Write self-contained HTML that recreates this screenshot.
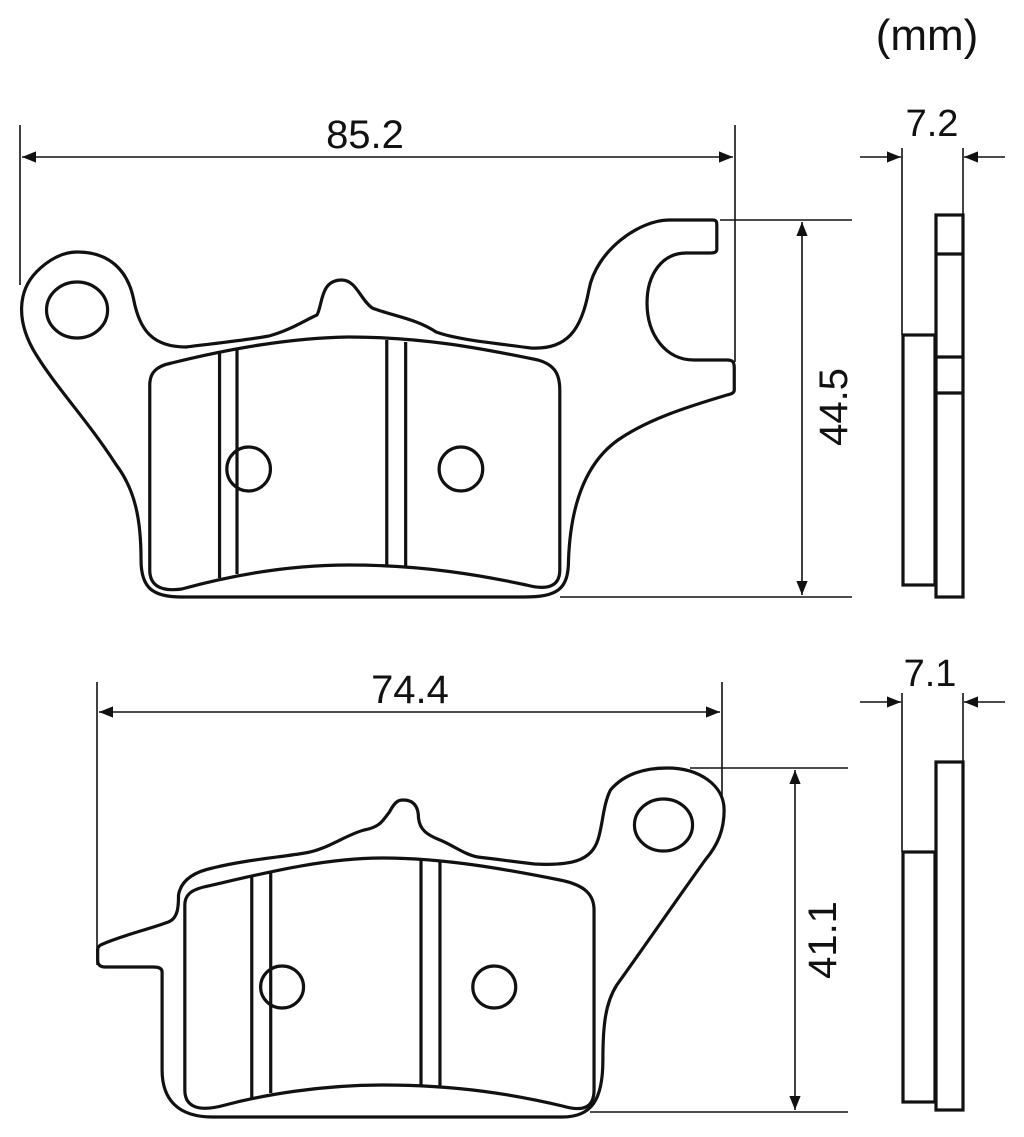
<!DOCTYPE html>
<html><head><style>html,body{margin:0;padding:0;background:#fff}svg{display:block}</style></head>
<body>
<svg width="1024" height="1137" viewBox="0 0 1024 1137" xmlns="http://www.w3.org/2000/svg">
<defs>
<marker id="a" viewBox="0 0 10 10" refX="10" refY="5" markerWidth="14" markerHeight="14" markerUnits="userSpaceOnUse" orient="auto-start-reverse"><path d="M0,1 L10,5 L0,9 z" fill="#111"/></marker>
</defs>
<g font-family="Liberation Sans, sans-serif" fill="#111">
<text x="927" y="50" font-size="44" text-anchor="middle">(mm)</text>
<text x="365" y="148" font-size="40" text-anchor="middle">85.2</text>
<text x="932" y="136" font-size="38" text-anchor="middle">7.2</text>
<text x="410" y="703" font-size="40" text-anchor="middle">74.4</text>
<text x="930" y="686" font-size="38" text-anchor="middle">7.1</text>
<text transform="translate(847,407) rotate(-90)" font-size="40" text-anchor="middle">44.5</text>
<text transform="translate(836,940) rotate(-90)" font-size="40" text-anchor="middle">41.1</text>
</g>
<g stroke="#111" stroke-width="1.6" fill="none">
<line x1="20" y1="125" x2="20" y2="285"/>
<line x1="735" y1="125" x2="735" y2="362"/>
<line x1="22" y1="157" x2="733" y2="157" marker-start="url(#a)" marker-end="url(#a)"/>
<line x1="720" y1="220" x2="852" y2="220"/>
<line x1="560" y1="597" x2="852" y2="597"/>
<line x1="802" y1="222" x2="802" y2="595" marker-start="url(#a)" marker-end="url(#a)"/>
<line x1="902" y1="148" x2="902" y2="335"/>
<line x1="963" y1="148" x2="963" y2="215"/>
<line x1="860" y1="157" x2="901" y2="157" marker-end="url(#a)"/>
<line x1="1005" y1="157" x2="964" y2="157" marker-end="url(#a)"/>

<line x1="97" y1="682" x2="97" y2="965"/>
<line x1="722" y1="682" x2="722" y2="800"/>
<line x1="99" y1="712" x2="720" y2="712" marker-start="url(#a)" marker-end="url(#a)"/>
<line x1="690" y1="768" x2="848" y2="768"/>
<line x1="590" y1="1112" x2="848" y2="1112"/>
<line x1="795" y1="770" x2="795" y2="1110" marker-start="url(#a)" marker-end="url(#a)"/>
<line x1="902" y1="693" x2="902" y2="852"/>
<line x1="963" y1="693" x2="963" y2="762"/>
<line x1="860" y1="702" x2="901" y2="702" marker-end="url(#a)"/>
<line x1="1005" y1="702" x2="964" y2="702" marker-end="url(#a)"/>
</g>
<g stroke="#111" stroke-width="3.2" fill="none" stroke-linejoin="round" transform="scale(1.454,1)">
<path vector-effect="non-scaling-stroke" d="M53,252 C75,252 88,270 92,300 C96,330 105,347 128,347 C150,343 170,340 185,336 C200,330 210,320 218,315 C222,305 220,280 235,280 C245,280 248,300 256,308 C270,316 285,318 300,332 C315,340 340,343 365,348 C390,350 400,330 405,290 C410,250 440,220 460,220 L490,220 C493,220 493,222 493,226 L493,249 C493,252 492,253 488,253 L472,253 C455,253 445,275 445,303 C445,335 458,360 477,360 L500,360 C504,360 505,362 505,368 L505,390 C505,393 503,394 500,395 C470,408 445,420 425,440 C398,468 392,520 391,560 C391,590 383,597 360,597 L125,597 C105,597 97,588 97,560 C97,520 93,490 80,465 C60,420 40,390 25,355 C10,320 13,290 25,272 C33,260 43,252 53,252 Z"/>
<ellipse vector-effect="non-scaling-stroke" cx="53" cy="310" rx="21" ry="28"/>
<path vector-effect="non-scaling-stroke" d="M118,363 C160,348 200,338 240,337 C290,337 330,348 370,360 C382,365 385,375 385,390 L385,570 C385,588 375,590 362,585 C330,575 290,565 240,565 C200,565 160,575 125,589 C110,592 103,585 103,570 L103,385 C103,372 108,366 118,363 Z"/>
<line vector-effect="non-scaling-stroke" x1="151" y1="352" x2="151" y2="578"/>
<line vector-effect="non-scaling-stroke" x1="163" y1="349" x2="163" y2="574"/>
<line vector-effect="non-scaling-stroke" x1="266" y1="340" x2="266" y2="565"/>
<line vector-effect="non-scaling-stroke" x1="279" y1="342" x2="279" y2="566"/>
<ellipse vector-effect="non-scaling-stroke" cx="171" cy="469" rx="15" ry="22"/>
<ellipse vector-effect="non-scaling-stroke" cx="317" cy="469" rx="15" ry="22"/>
</g>
<g stroke="#111" stroke-width="3.2" fill="none" stroke-linejoin="round" transform="translate(80,0) scale(1.263,1) translate(-80,0)">
<path vector-effect="non-scaling-stroke" d="M545,768 C570,768 590,785 590,810 C590,830 585,845 575,860 C555,895 525,950 505,985 C496,1003 494,1025 494,1060 C494,1100 485,1117 462,1117 L185,1117 C158,1117 145,1100 145,1070 L145,972 C145,969 143,967 138,967 L100,967 C96,967 94,965 94,960 L94,950 C94,946 96,945 100,943 C115,935 135,929 150,922 C158,918 158,905 158,895 C160,880 170,872 185,868 C210,860 240,857 258,853 C275,850 290,835 305,830 C318,827 320,820 325,812 C330,800 333,800 336,800 C345,800 348,808 348,818 C349,830 355,835 365,840 C375,845 385,855 395,857 C415,860 425,862 440,864 C470,866 485,860 490,840 C494,825 494,805 500,790 C510,775 525,768 545,768 Z"/>
<ellipse vector-effect="non-scaling-stroke" cx="542" cy="825" rx="23" ry="26"/>
<path vector-effect="non-scaling-stroke" d="M178,887 C220,875 270,858 320,858 C370,858 420,870 460,880 C480,885 487,895 487,910 L487,1090 C487,1108 478,1112 462,1106 C425,1095 380,1085 320,1085 C270,1085 225,1095 195,1105 C175,1112 163,1108 163,1090 L163,905 C163,895 168,890 178,887 Z"/>
<line vector-effect="non-scaling-stroke" x1="216" y1="876" x2="216" y2="1098"/>
<line vector-effect="non-scaling-stroke" x1="231" y1="871" x2="231" y2="1093"/>
<line vector-effect="non-scaling-stroke" x1="350" y1="860" x2="350" y2="1085"/>
<line vector-effect="non-scaling-stroke" x1="365" y1="862" x2="365" y2="1088"/>
<ellipse vector-effect="non-scaling-stroke" cx="240" cy="987" rx="17" ry="21"/>
<ellipse vector-effect="non-scaling-stroke" cx="408" cy="987" rx="17" ry="21"/>
</g>
<g stroke="#111" stroke-width="3.2" fill="none">
<rect x="903" y="335" width="32" height="250"/>
<rect x="936" y="215" width="27" height="382"/>
<line x1="936" y1="254" x2="963" y2="254"/>
<line x1="936" y1="357" x2="963" y2="357"/>
<line x1="936" y1="393" x2="963" y2="393"/>
<rect x="903" y="852" width="32" height="250"/>
<rect x="936" y="762" width="27" height="348"/>
</g>
</svg>
</body></html>
